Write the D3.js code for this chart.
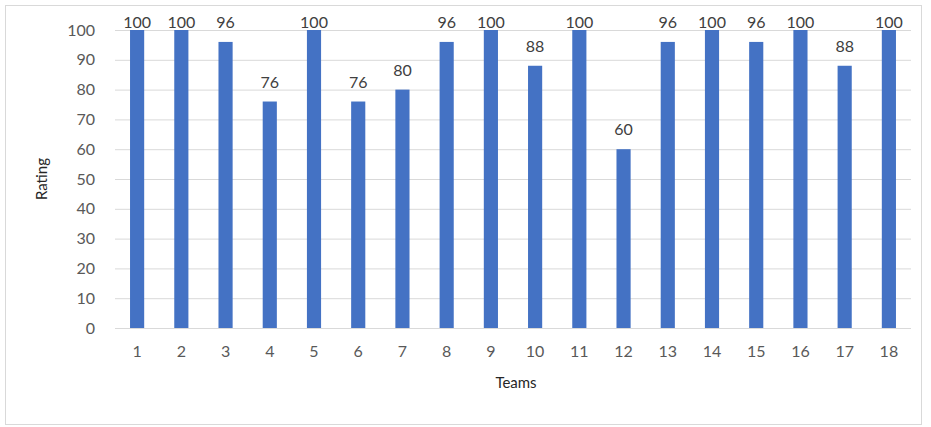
<!DOCTYPE html>
<html>
<head>
<meta charset="utf-8">
<script src="https://cdn.jsdelivr.net/npm/d3@7"></script>
<style>
  html, body { margin: 0; padding: 0; background: #fff; }
  svg { display: block; }
  text { font-family: Lato, "Open Sans", sans-serif; }
</style>
</head>
<body>
<svg id="chart" width="931" height="427"></svg>
<script>
// Team ratings
const teams = ["1","2","3","4","5","6","7","8","9","10","11","12","13","14","15","16","17","18"];
const ratings = [100,100,96,76,100,76,80,96,100,88,100,60,96,100,96,100,88,100];
const yTicks = [0,10,20,30,40,50,60,70,80,90,100];

const svg = d3.select("#chart");
const plot = { left: 115, right: 911, top: 30, bottom: 328 };

// outer frame
svg.append("rect")
  .attr("x", 5.5).attr("y", 5.5)
  .attr("width", 916).attr("height", 419)
  .attr("fill", "#fff").attr("stroke", "#d9d9d9").attr("stroke-width", 1);

const x = d3.scaleBand().domain(teams).range([plot.left, plot.right]).paddingInner(0.68).paddingOuter(0.34);
const y = d3.scaleLinear().domain([0, 100]).range([plot.bottom, plot.top]);

// gridlines + y labels
const yAxis = d3.axisLeft(y).tickValues(yTicks).tickSize(-(plot.right - plot.left)).tickPadding(20);
const gy = svg.append("g").attr("transform", `translate(${plot.left},0)`).call(yAxis);
gy.select(".domain").remove();
gy.selectAll(".tick line").attr("stroke", "#d9d9d9").attr("stroke-width", 1);
gy.selectAll(".tick text").attr("fill", "#595959").style("font-size", "16px");

// x labels
const xAxis = d3.axisBottom(x).tickSize(0).tickPadding(18);
const gx = svg.append("g").attr("transform", `translate(0,${plot.bottom})`).call(xAxis);
gx.select(".domain").remove();
gx.selectAll(".tick text").attr("fill", "#595959").style("font-size", "16px");

// bars
svg.append("g").selectAll("rect")
  .data(ratings)
  .join("rect")
  .attr("x", (d, i) => x(teams[i]))
  .attr("y", d => y(d))
  .attr("width", x.bandwidth())
  .attr("height", d => y(0) - y(d))
  .attr("fill", "#4472c4");

// value labels, kept inside the plot when the bar reaches the top
svg.append("g").selectAll("text")
  .data(ratings)
  .join("text")
  .attr("x", (d, i) => x(teams[i]) + x.bandwidth() / 2)
  .attr("y", d => Math.max(y(d) - 14, plot.top - 2))
  .attr("text-anchor", "middle")
  .attr("fill", "#404040")
  .style("font-size", "16px")
  .text(d => d);

// axis titles
svg.append("text")
  .attr("x", (plot.left + plot.right) / 2 + 3)
  .attr("y", 388)
  .attr("text-anchor", "middle")
  .attr("fill", "#262626")
  .style("font-size", "15px")
  .text("Teams");

svg.append("text")
  .attr("transform", `translate(47,${(plot.top + plot.bottom) / 2}) rotate(-90)`)
  .attr("text-anchor", "middle")
  .attr("fill", "#262626")
  .style("font-size", "15px")
  .text("Rating");
</script>
</body>
</html>
